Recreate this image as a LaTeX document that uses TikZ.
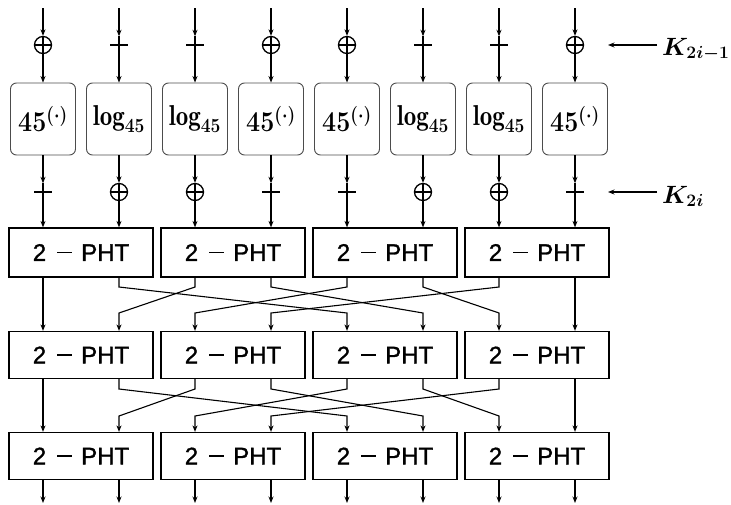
\RequirePackage{fix-cm}
\documentclass[tikz,border=0pt]{standalone}
\usepackage{fontspec}
\usepackage{graphicx}
\newfontfamily\phtfont[FakeBold=1.2]{Liberation Sans}
\usetikzlibrary{arrows.meta}
\begin{document}
\begin{tikzpicture}[x=1pt,y=-1pt,
  wire/.style={line width=1.1pt},
  arr/.style={wire,-{Stealth[length=6.5pt,width=5pt]}},
  opline/.style={line width=1.5pt},
  xorop/.style={circle,draw,line width=1.3pt,minimum size=17pt,inner sep=0pt},
  addop/.style={circle,minimum size=17pt,inner sep=0pt},
  expbox/.style={draw=black!70,rounded corners=6pt,line width=0.9pt,minimum width=65pt,minimum height=72pt,inner sep=0pt,font=\fontsize{25}{28}\selectfont\boldmath},
  phtbox/.style={draw,line width=1.2pt,minimum width=144pt,inner sep=0pt,font=\phtfont\fontsize{24}{26}\selectfont},
  klabel/.style={anchor=base west,inner sep=0pt,font=\fontsize{25}{28}\selectfont\boldmath},
]
\useasboundingbox (0,0) rectangle (731,504);
\newcommand{\phttext}{2\hspace{11pt}\rule[7.4pt]{15pt}{1.8pt}\hspace{9pt}PHT}
\newcommand{\expt}{\scalebox{1}[1.15]{$45^{(\cdot)}$}}
\newcommand{\logt}{\scalebox{1}[1.15]{$\log_{45}$}}
% columns
\foreach \i/\x in {0/43,1/119,2/195,3/271,4/347,5/423,6/499,7/575}
  \coordinate (X\i) at (\x,0);
\coordinate (top) at (0,8);
\coordinate (bot) at (0,503);
\coordinate (n1) at (0,287);
\coordinate (m1) at (0,313);
\coordinate (n2) at (0,389);
\coordinate (m2) at (0,416);
% first key layer
\foreach \i/\t in {0/xorop,1/addop,2/addop,3/xorop,4/xorop,5/addop,6/addop,7/xorop}
  \node[\t] (a\i) at (X\i |- 0,45) {};
% exp/log boxes
\foreach \i/\s in {0/\expt,1/\logt,2/\logt,3/\expt,4/\expt,5/\logt,6/\logt,7/\expt}
  \node[expbox] (b\i) at (X\i |- 0,119) {\s};
% second key layer
\foreach \i/\t in {0/addop,1/xorop,2/xorop,3/addop,4/addop,5/xorop,6/xorop,7/addop}
  \node[\t] (c\i) at (X\i |- 0,192) {};
% crosses for all op nodes
\foreach \n in {a,c}
  \foreach \i in {0,...,7}
    \draw[opline] (\n\i.north) -- (\n\i.south) (\n\i.west) -- (\n\i.east);
% PHT boxes
\foreach \k/\x in {0/81,1/233,2/385,3/537} {
  \node[phtbox,minimum height=49pt] (p1\k) at (\x,252.5) {\phttext};
  \node[phtbox,minimum height=47pt] (p2\k) at (\x,355) {\phttext};
  \node[phtbox,minimum height=47pt] (p3\k) at (\x,456) {\phttext};
}
% vertical arrows top part
\foreach \i in {0,...,7} {
  \pgfmathtruncatemacro{\bx}{int(\i/2)}
  \draw[arr] (X\i |- top) -- (a\i.north);
  \draw[arr] (a\i.south) -- (b\i.north);
  \draw[arr] (b\i.south) -- (c\i.north);
  \draw[arr] (c\i.south) -- (p1\bx.north -| X\i);
  \draw[arr] (p3\bx.south -| X\i) -- (X\i |- bot);
}
% shuffles
\foreach \i in {0,...,7} {
  \pgfmathtruncatemacro{\j}{mod(\i,2)==0 ? \i/2 : 4+(\i-1)/2}
  \pgfmathtruncatemacro{\sb}{int(\i/2)}
  \pgfmathtruncatemacro{\tb}{int(\j/2)}
  \draw[arr] (p1\sb.south -| X\i) -- (X\i |- n1) -- (X\j |- m1) -- (p2\tb.north -| X\j);
  \draw[arr] (p2\sb.south -| X\i) -- (X\i |- n2) -- (X\j |- m2) -- (p3\tb.north -| X\j);
}
% key inputs
\coordinate (k1s) at (657,45);
\coordinate (k2s) at (657,192);
\draw[arr] (k1s) -- (a7.east -| 608,0);
\draw[arr] (k2s) -- (c7.east -| 608,0);
\node[klabel] (k1) at (662,55) {$K_{2i-1}$};
\node[klabel] (k2) at (662,203) {$K_{2i}$};
\end{tikzpicture}
\end{document}
